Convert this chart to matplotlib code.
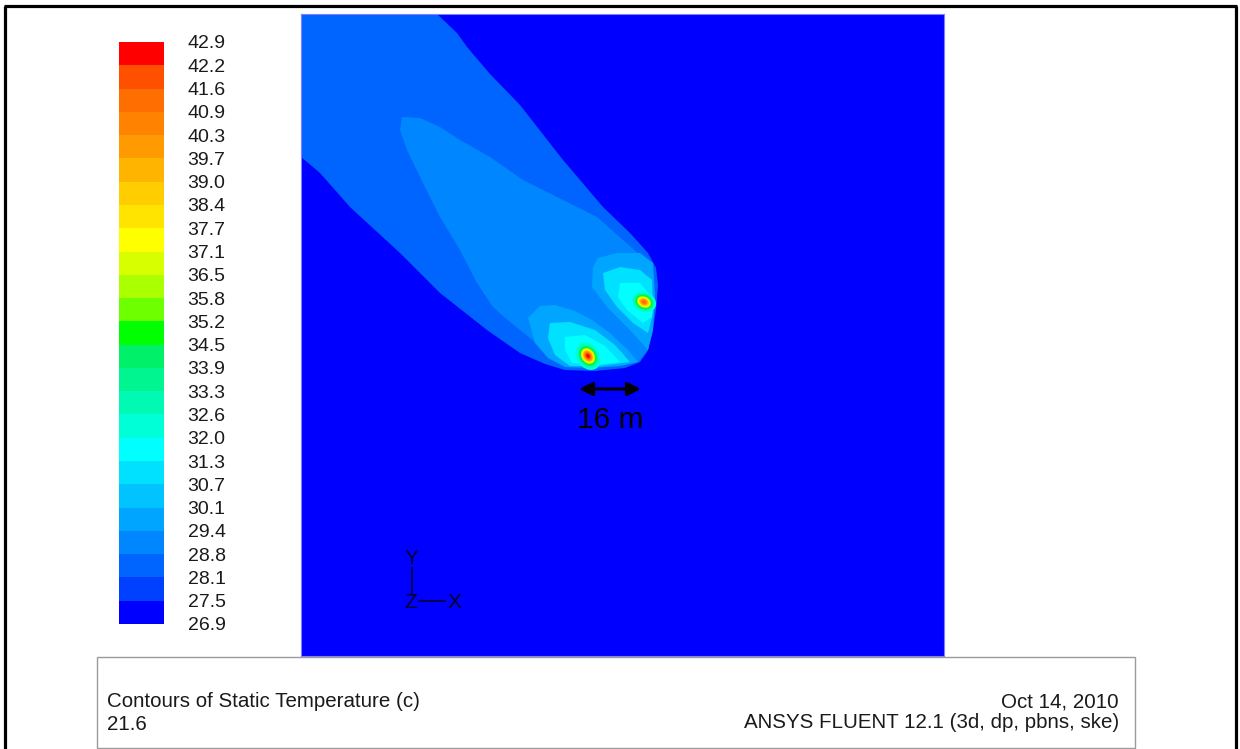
import numpy as np
import matplotlib
matplotlib.use("Agg")
import matplotlib.pyplot as plt
from matplotlib.colors import ListedColormap, BoundaryNorm
from matplotlib.patches import Polygon, Ellipse, Rectangle
from matplotlib.cm import ScalarMappable

plt.rcParams['font.family'] = ['Liberation Sans', 'DejaVu Sans']

# Contour band edges (static temperature, deg C)
band_edges = [26.9, 27.5, 28.1, 28.8, 29.4, 30.1, 30.7, 31.3, 32.0, 32.6, 33.3,
              33.9, 34.5, 35.2, 35.8, 36.5, 37.1, 37.7, 38.4, 39.0, 39.7, 40.3,
              40.9, 41.6, 42.2, 42.9]

# Digitised isotherm outlines, in grid units of the plane view
# (origin at the lower-left corner of the domain, y grows downwards in the grid)
GRID_X0, GRID_Y0 = 301, 656
GRID_PER_M = 3.875
domain_w, domain_h = 643, 642

outer_plume = [(301, 14), (437, 14), (457, 33), (467, 47), (490, 74), (520, 105),
               (563, 160), (603, 207), (630, 233), (648, 253), (656, 268), (658, 285),
               (656, 310), (652, 335), (647, 352), (640, 362), (625, 368), (595, 371),
               (565, 370), (545, 364), (520, 353), (487, 330), (440, 293), (400, 253),
               (350, 207), (320, 173), (301, 157)]
inner_plume = [(402, 117), (420, 118), (440, 127), (460, 140), (490, 157), (523, 180),
               (557, 197), (597, 217), (623, 240), (640, 255), (650, 266), (654, 280),
               (653, 325), (648, 350), (638, 362), (620, 366), (590, 367), (565, 364),
               (550, 355), (530, 338), (510, 322), (493, 307), (477, 283), (460, 250),
               (440, 217), (423, 183), (407, 150), (400, 130)]
lower_fan = {
    29.9: [(528, 318), (540, 306), (555, 305), (575, 311), (592, 320), (610, 333),
           (628, 350), (638, 362), (620, 366), (590, 368), (565, 367), (548, 358),
           (535, 343)],
    30.9: [(550, 323), (570, 322), (595, 330), (615, 345), (630, 362), (600, 366),
           (570, 366), (555, 355), (548, 338)],
    31.6: [(565, 337), (585, 335), (605, 346), (620, 362), (595, 365), (572, 363),
           (565, 350)],
}
upper_fan = {
    29.9: [(598, 258), (617, 253), (640, 253), (653, 263), (655, 297), (653, 330),
           (648, 350), (630, 330), (607, 307), (592, 287), (593, 267)],
    30.9: [(603, 273), (620, 267), (640, 270), (652, 280), (653, 313), (648, 333),
           (633, 323), (617, 307), (605, 290)],
    31.6: [(620, 283), (640, 283), (652, 297), (652, 317), (643, 323), (627, 310),
           (618, 297)],
}

# Heat sources: centre, ring temperatures and ring sizes (major, minor)
upper_src = (644, 302)
upper_levels = [32.3, 33.0, 33.6, 34.2, 34.8, 36.0, 37.4, 38.7, 40.0, 41.2]
upper_major = [25, 21, 19, 17, 16, 14.5, 12.5, 10.5, 8, 5]
upper_minor = [20, 17, 15, 13.5, 12.5, 11, 9.5, 8, 6, 3.5]
upper_tilt = -25

lower_src = (588, 356)
lower_levels = [32.3, 33.0, 33.6, 34.2, 34.8, 36.0, 37.4, 38.7, 40.0, 41.2, 42.0, 42.6]
lower_major = [30, 25, 22, 20, 18.5, 17, 15, 13, 11, 8.5, 6.5, 4]
lower_minor = [23, 19, 17, 15.5, 14, 13, 11.5, 10, 8, 6, 4.5, 3]
lower_tilt = -56

plume_levels = [28.4, 29.0]
scale_bar_m = 16
scale_bar_start = (579, 389)

# band colours, blue -> cyan -> green -> yellow -> red
band_rgb = [(0, 0, 255), (0, 64, 255), (0, 100, 255), (0, 135, 255), (0, 165, 255),
            (0, 195, 255), (0, 225, 255), (0, 255, 255), (0, 255, 215), (0, 250, 180),
            (0, 245, 145), (0, 240, 105), (0, 255, 0), (110, 255, 0), (170, 255, 0),
            (215, 255, 0), (255, 255, 0), (255, 228, 0), (255, 205, 0), (255, 180, 0),
            (255, 155, 0), (255, 130, 0), (255, 110, 0), (255, 80, 0), (255, 0, 0)]


def to_m(pts):
    p = np.asarray(pts, dtype=float)
    return np.column_stack(((p[:, 0] - GRID_X0) / GRID_PER_M,
                            (GRID_Y0 - p[:, 1]) / GRID_PER_M))


n_bands = len(band_edges) - 1
cmap = ListedColormap([(r / 255, g / 255, b / 255) for r, g, b in band_rgb])
norm = BoundaryNorm(band_edges, n_bands)

fig = plt.figure(figsize=(12.4, 7.49), dpi=100)
W, H = 1240, 749

# plane view of the domain
ax = fig.add_axes([301 / W, 1 - 656 / H, 643 / W, 642 / H])
ax.set_xlim(0, domain_w / GRID_PER_M)
ax.set_ylim(0, domain_h / GRID_PER_M)
ax.set_facecolor(cmap(0))
ax.set_xticks([])
ax.set_yticks([])
for s in ax.spines.values():
    s.set_color('#7f7fff')
    s.set_linewidth(0.8)

for level, outline in zip(plume_levels, [outer_plume, inner_plume]):
    ax.add_patch(Polygon(to_m(outline), closed=True, facecolor=cmap(norm(level)),
                         edgecolor='none'))
for fan in (lower_fan, upper_fan):
    for level, outline in fan.items():
        ax.add_patch(Polygon(to_m(outline), closed=True, facecolor=cmap(norm(level)),
                             edgecolor='none'))

for src, levels, major, minor, tilt in [
        (upper_src, upper_levels, upper_major, upper_minor, upper_tilt),
        (lower_src, lower_levels, lower_major, lower_minor, lower_tilt)]:
    c = to_m([src])[0]
    for level, a, b in zip(levels, major, minor):
        ax.add_patch(Ellipse(c, a / GRID_PER_M, b / GRID_PER_M, angle=tilt,
                             facecolor=cmap(norm(level)), edgecolor='none'))

# 16 m scale bar
x0, y0 = to_m([scale_bar_start])[0]
ax.annotate('', xy=(x0 + scale_bar_m, y0), xytext=(x0, y0),
            arrowprops=dict(arrowstyle='<|-|>', color='black', lw=2.2,
                            mutation_scale=20, shrinkA=0, shrinkB=0))
ax.text(x0 + scale_bar_m / 2, y0 - 39 / GRID_PER_M, f'{scale_bar_m} m',
        ha='center', va='baseline', fontsize=21.5, color='black')

# colour scale
cax = fig.add_axes([119 / W, 1 - 624 / H, 45 / W, 582 / H])
cb = fig.colorbar(ScalarMappable(norm=norm, cmap=cmap), cax=cax,
                  ticks=band_edges, spacing='uniform')
cb.outline.set_visible(False)
cb.set_ticklabels([f'{v:.1f}' for v in band_edges])
cax.tick_params(length=0, labelsize=14, pad=17, colors='#1a1a1a')

# page furniture on top
page = fig.add_axes([0, 0, 1, 1])
page.set_xlim(0, W)
page.set_ylim(H, 0)
page.axis('off')
page.patch.set_alpha(0)

page.plot([5, 5], [6, H + 5], color='black', lw=2.3, solid_capstyle='butt')
page.plot([1236, 1236], [6, H + 5], color='black', lw=2.3, solid_capstyle='butt')
page.plot([4, 1237], [6, 6], color='black', lw=2.3, solid_capstyle='butt')

page.add_patch(Rectangle((97, 657), 1038, 91, facecolor='white',
                         edgecolor='#9a9a9a', lw=1))
page.text(107, 707, 'Contours of Static Temperature (c)', fontsize=14.8,
          ha='left', va='baseline', color='#1a1a1a')
page.text(107, 730, '21.6', fontsize=14.8, ha='left', va='baseline', color='#1a1a1a')
page.text(1119, 708, 'Oct 14, 2010', fontsize=14.8, ha='right', va='baseline',
          color='#1a1a1a')
page.text(1119, 728, 'ANSYS FLUENT 12.1 (3d, dp, pbns, ske)', fontsize=14.8,
          ha='right', va='baseline', color='#1a1a1a')

# axis triad
triad_col = '#000030'
page.plot([412, 412], [568, 595], color=triad_col, lw=1.2)
page.plot([419, 445], [601, 601], color=triad_col, lw=1.2)
page.text(411, 559, 'Y', fontsize=15, ha='center', va='center', color=triad_col)
page.text(411, 602, 'Z', fontsize=15, ha='center', va='center', color=triad_col)
page.text(454, 602, 'X', fontsize=15, ha='center', va='center', color=triad_col)

fig.savefig('out.png', dpi=100)
